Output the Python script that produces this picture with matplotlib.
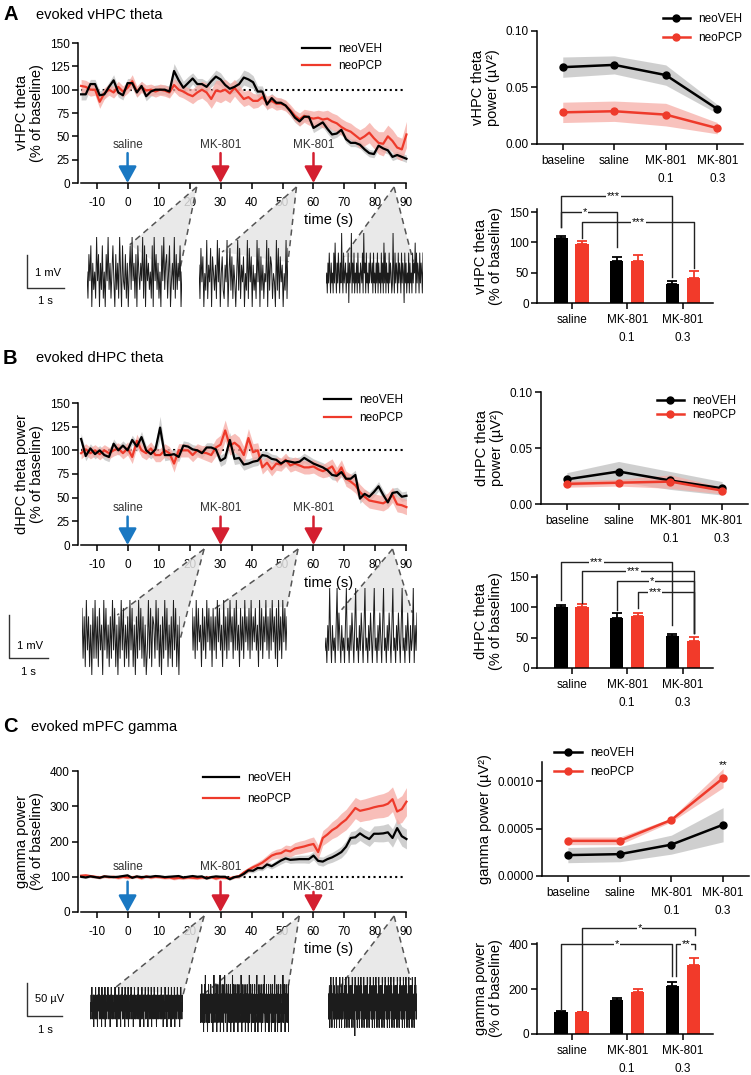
import numpy as np
import matplotlib
matplotlib.use('Agg')
import matplotlib.pyplot as plt
from matplotlib.patches import Polygon
from matplotlib.lines import Line2D

plt.rcParams['font.family'] = ['Liberation Sans', 'DejaVu Sans']
plt.rcParams['axes.unicode_minus'] = False
plt.rcParams['axes.linewidth'] = 1.1
plt.rcParams['xtick.major.width'] = 1.1
plt.rcParams['ytick.major.width'] = 1.1
plt.rcParams['xtick.major.size'] = 4
plt.rcParams['ytick.major.size'] = 4
plt.rcParams['xtick.labelsize'] = 8.5
plt.rcParams['ytick.labelsize'] = 8.5

# ---------------- DATA ----------------
time_s = np.arange(-15, 90.1, 1.5)

vhpc_veh = [95, 95, 106, 106, 94, 95, 103, 110, 97, 94,
            107, 107, 97, 104, 93, 98, 100, 100, 100, 98,
            120, 110, 102, 107, 112, 106, 106, 103, 109, 114,
            111, 105, 101, 103, 106, 113, 111, 108, 98, 98,
            84, 91, 86, 86, 83, 77, 70, 66, 71, 71,
            59, 62, 65, 58, 52, 53, 57, 47, 43, 43,
            41, 36, 32, 31, 40, 37, 35, 28, 30, 28, 26]
vhpc_veh_sem = [6, 6, 5, 5, 5, 5, 5, 6, 5, 5,
                5, 5, 5, 5, 5, 5, 5, 5, 5, 6,
                8, 8, 7, 7, 6, 6, 6, 6, 6, 7,
                7, 6, 6, 6, 7, 8, 8, 7, 6, 6,
                6, 5, 5, 5, 5, 5, 5, 5, 5, 5,
                5, 5, 5, 5, 5, 4, 4, 4, 4, 4,
                4, 4, 4, 4, 4, 4, 4, 4, 4, 4, 4]
vhpc_pcp = [104, 103, 100, 100, 87, 96, 100, 97, 103, 98,
            102, 109, 98, 103, 99, 100, 98, 100, 99, 97,
            105, 100, 98, 95, 93, 97, 100, 97, 90, 99,
            98, 100, 96, 102, 96, 90, 92, 88, 88, 92,
            86, 88, 85, 85, 83, 78, 72, 68, 72, 70,
            69, 70, 68, 69, 66, 64, 60, 57, 55, 51,
            47, 50, 54, 48, 43, 42, 50, 45, 38, 36, 52]
vhpc_pcp_sem = [7, 7, 7, 6, 7, 6, 6, 6, 6, 6,
                6, 7, 6, 6, 6, 6, 6, 6, 6, 6,
                7, 7, 7, 7, 8, 8, 9, 10, 10, 11,
                12, 11, 10, 9, 9, 8, 8, 8, 7, 7,
                7, 7, 7, 6, 6, 6, 6, 7, 7, 8,
                8, 8, 9, 9, 9, 9, 9, 9, 9, 9,
                10, 10, 11, 11, 12, 13, 12, 12, 12, 12, 14]

dhpc_veh = [112, 94, 102, 96, 100, 95, 93, 107, 100, 105,
            100, 111, 104, 114, 100, 96, 101, 124, 95, 95,
            96, 93, 105, 104, 101, 100, 97, 103, 103, 101,
            89, 92, 111, 91, 92, 85, 86, 88, 89, 95,
            94, 91, 90, 86, 89, 88, 87, 88, 92, 89,
            86, 84, 82, 79, 74, 73, 77, 70, 70, 74,
            49, 54, 51, 56, 62, 53, 45, 55, 56, 51, 52]
dhpc_veh_sem = [6, 5, 5, 5, 5, 5, 5, 5, 5, 5,
                5, 5, 5, 6, 5, 5, 6, 12, 6, 5,
                5, 5, 5, 5, 5, 5, 5, 5, 5, 5,
                6, 6, 8, 6, 6, 6, 5, 5, 5, 5,
                5, 5, 5, 5, 5, 5, 5, 5, 5, 5,
                5, 5, 5, 5, 5, 5, 5, 5, 5, 5,
                5, 5, 5, 5, 5, 5, 5, 5, 5, 5, 5]
dhpc_pcp = [97, 101, 97, 100, 96, 100, 97, 100, 102, 97,
            102, 93, 110, 100, 97, 102, 95, 95, 100, 97,
            86, 100, 100, 100, 95, 100, 98, 97, 95, 103,
            106, 121, 105, 108, 104, 95, 113, 98, 100, 82,
            87, 80, 86, 85, 90, 84, 86, 84, 82, 82,
            83, 80, 78, 80, 83, 74, 82, 70, 67, 63,
            56, 51, 47, 46, 45, 44, 47, 53, 43, 42, 40]
dhpc_pcp_sem = [6, 6, 6, 6, 6, 6, 6, 6, 6, 6,
                7, 7, 7, 7, 7, 7, 7, 7, 7, 7,
                9, 7, 7, 7, 7, 7, 7, 8, 8, 9,
                10, 11, 10, 10, 10, 9, 10, 9, 8, 7,
                7, 7, 7, 7, 7, 7, 7, 7, 7, 7,
                7, 7, 7, 8, 8, 8, 8, 8, 8, 8,
                8, 8, 8, 8, 8, 8, 8, 8, 8, 8, 8]

gamma_veh = [100, 98, 101, 99, 97, 101, 100, 99, 100, 102,
             104, 97, 101, 99, 100, 100, 102, 101, 99, 100,
             101, 102, 98, 100, 102, 100, 101, 95, 99, 101,
             100, 100, 93, 99,
             101, 108, 118, 117, 125, 124, 135, 130, 138, 146,
             152, 148, 149, 150, 150, 150, 160, 145, 143, 150,
             155, 162, 170, 185, 210, 212, 223, 214, 207, 222,
             222, 223, 226, 210, 238, 215, 207]
gamma_veh_sem = [3] * 34 + [5, 5, 6, 6, 7, 7, 8, 8, 9, 10,
                            10, 10, 10, 11, 11, 12, 12, 12, 13, 13,
                            14, 15, 16, 17, 18, 19, 20, 20, 21, 22,
                            23, 24, 25, 26, 27, 28, 28]
gamma_pcp = [103, 104, 102, 100, 98, 101, 99, 100, 97, 100,
             98, 99, 100, 96, 101, 98, 100, 99, 97, 98,
             95, 97, 96, 98, 97, 96, 98, 97, 99, 95,
             98, 97, 96, 99,
             102, 112, 120, 127, 133, 140, 150, 160, 165, 167,
             175, 172, 180, 183, 186, 190, 193, 170, 210, 220,
             232, 240, 252, 262, 278, 295, 287, 290, 293, 297,
             300, 302, 307, 320, 285, 292, 313]
gamma_pcp_sem = [4] * 34 + [5, 6, 7, 8, 9, 10, 11, 12, 13, 14,
                            15, 16, 17, 18, 18, 19, 20, 20, 21, 22,
                            24, 26, 28, 29, 30, 30, 31, 31, 32, 32,
                            33, 34, 35, 35, 36, 38, 40]

# injections
inj_times = [0, 30, 60]
inj_labels = ['saline', 'MK-801', 'MK-801']

# absolute power (right-top panels)
power_cats = ['baseline', 'saline', 'MK-801\n0.1', 'MK-801\n0.3']
vpow_veh = [0.068, 0.070, 0.061, 0.031]
vpow_veh_sem = [0.009, 0.008, 0.009, 0.004]
vpow_pcp = [0.028, 0.029, 0.026, 0.014]
vpow_pcp_sem = [0.009, 0.009, 0.010, 0.005]
dpow_veh = [0.022, 0.029, 0.021, 0.014]
dpow_veh_sem = [0.006, 0.009, 0.008, 0.006]
dpow_pcp = [0.018, 0.019, 0.020, 0.012]
dpow_pcp_sem = [0.003, 0.003, 0.006, 0.003]
gpow_veh = [0.00022, 0.00023, 0.00033, 0.00054]
gpow_veh_sem = [0.00008, 0.00008, 0.00010, 0.00018]
gpow_pcp = [0.00037, 0.00037, 0.00059, 0.00103]
gpow_pcp_sem = [0.00004, 0.00004, 0.00002, 0.00010]

# percentage bars
bar_cats = ['saline', 'MK-801\n0.1', 'MK-801\n0.3']
vbar_veh = [107, 70, 32]
vbar_veh_err = [4, 6, 4]
vbar_pcp = [98, 70, 42]
vbar_pcp_err = [5, 9, 11]
dbar_veh = [100, 83, 52]
dbar_veh_err = [4, 8, 4]
dbar_pcp = [100, 85, 45]
dbar_pcp_err = [5, 6, 6]
gbar_veh = [97, 150, 212]
gbar_veh_err = [4, 12, 18]
gbar_pcp = [97, 187, 305]
gbar_pcp_err = [3, 15, 35]

# significance brackets: (x_left, x_right, y, left_end, right_end, label, label_x)
v_brackets = [(-0.19, 1.81, 176, 125, 43, '***', 0.75),
              (-0.19, 0.81, 150, 125, 92, '*', 0.25),
              (0.19, 2.19, 133, 107, 57, '***', 1.2)]
d_brackets = [(-0.19, 1.81, 175, 112, 70, '***', 0.45),
              (0.19, 2.19, 160, 107, 58, '***', 1.11),
              (0.81, 2.19, 143, 96, 58, '*', 1.44),
              (1.19, 2.19, 125, 98, 58, '***', 1.5)]
g_brackets = [(0.19, 2.22, 470, 105, 440, '*', 1.22),
              (-0.19, 1.80, 400, 105, 260, '*', 0.82),
              (1.87, 2.22, 400, 260, 378, '**', 2.06)]

# example LFP traces (hand-copied amplitude levels, 0-9)
trace_A1 = ("52748163529471638251749362584173629518437261583946"
            "27185364928174635281947362518493672581463927364815")
trace_A2 = ("62847153926481753629481573264915837264159382647153"
            "9284716352948173625491837625419382746153928")
trace_A3 = ("45364753645374853647536495374563547264593647354637"
            "45365473956374536475463745364736453746384736453746"
            "53495374653746537465274635473645374658374653746537")
trace_B1 = ("82719371608292718360938261729381607293816271938160"
            "72938271603928176293816072938162719381607")
trace_B2 = ("72618273507261837260726183725082617283617282507261"
            "83627182637250827163826172836170826183726")
trace_B3 = ("45364953645369475364536945364753694536475369453647"
            "53694536475369453647536945364753694536475364593647")
trace_C1 = ("45364735462645374536264573645362745364537264536475"
            "36452637453645364735462645374536264573645362745364"
            "53726453647536452637453645364735462645374536264573"
            "64536274536453726453647536452637453645364735462645"
            "37453626457364536274536453726453647536452637453645")
trace_C2 = ("46354736452637485364526374536475364526384536475263"
            "74536482536475362748536475263745364725364837526374"
            "53647526374536485263745364725364735264836475263745"
            "36472536483526374536472536475384526374536472536475"
            "26374536482536475263745364725364836475263745364725")
trace_C3 = ("46357264837265483726453827364537284635273846537264"
            "83726453826374537284635271846537264837265483726453"
            "82637453728463527384653726483726548372645382637453"
            "72846352738465372648372654837264538263745372846352"
            "73846537264837265483726453826374537284635273846537")

# ---------------- STYLE ----------------
RED = '#ee3a2b'
BAR_RED = '#f23a2a'
BLUE_ARROW = '#1a78c2'
RED_ARROW = '#d41f30'
GREY_BAND = '#c4c4c4'
PINK_BAND = '#f6a9a2'

W, H = 751, 1075
fig = plt.figure(figsize=(W / 100, H / 100), dpi=100)


def add_ax(x0, y0, x1, y1):
    return fig.add_axes([x0 / W, 1 - y1 / H, (x1 - x0) / W, (y1 - y0) / H])


def clean(ax):
    ax.spines['top'].set_visible(False)
    ax.spines['right'].set_visible(False)
    ax.tick_params(direction='out', pad=2)


def timeseries(ax, veh, veh_sem, pcp, pcp_sem, ylim, yticks, label_y, arrow_top, ylabel,
               leg_anchor, leg_spacing, handlelen):
    veh = np.array(veh, float); pcp = np.array(pcp, float)
    veh_sem = np.array(veh_sem, float); pcp_sem = np.array(pcp_sem, float)
    ax.plot([-15, 90], [100, 100], ls=(0, (1, 1.6)), color='k', lw=1.5, zorder=1)
    ax.fill_between(time_s, veh - veh_sem, veh + veh_sem, color=GREY_BAND, alpha=0.8, lw=0, zorder=2)
    ax.fill_between(time_s, pcp - pcp_sem, pcp + pcp_sem, color=PINK_BAND, alpha=0.75, lw=0, zorder=2)
    l2, = ax.plot(time_s, pcp, color=RED, lw=1.6, zorder=3)
    l1, = ax.plot(time_s, veh, color='k', lw=1.6, zorder=4)
    for i, (t, lab) in enumerate(zip(inj_times, inj_labels)):
        c = BLUE_ARROW if i == 0 else RED_ARROW
        ax.annotate('', xy=(t, 0), xytext=(t, arrow_top[i]),
                    arrowprops=dict(arrowstyle='-|>,head_width=0.55,head_length=1.0',
                                    color=c, lw=1.8, shrinkA=0, shrinkB=0), zorder=5)
        ax.text(t, label_y[i], lab, ha='center', va='center', fontsize=8.5, color='#333333')
    ax.set_xlim(-16, 90.5)
    ax.set_ylim(*ylim)
    ax.set_yticks(yticks)
    ax.set_xticks(np.arange(-10, 91, 10))
    ax.set_xlabel('time (s)', fontsize=10.5)
    ax.set_ylabel(ylabel, fontsize=10.5, linespacing=1.1)
    ax.spines['bottom'].set_bounds(-15, 90)
    clean(ax)
    ax.tick_params(axis='x', pad=6)
    ax.xaxis.set_label_coords(0.76, -0.215)
    ax.legend([l1, l2], ['neoVEH', 'neoPCP'], loc='upper left', bbox_to_anchor=leg_anchor,
              frameon=False, fontsize=8.5, handlelength=handlelen, handletextpad=0.7,
              labelspacing=leg_spacing, borderpad=0, borderaxespad=0)


def powerplot(ax, veh, veh_sem, pcp, pcp_sem, ylim, yticks, ylabel, leg_anchor, leg_spacing, ticklabels):
    x = np.arange(4)
    veh = np.array(veh); pcp = np.array(pcp)
    veh_sem = np.array(veh_sem); pcp_sem = np.array(pcp_sem)
    ax.fill_between(x, veh - veh_sem, veh + veh_sem, color=GREY_BAND, alpha=0.8, lw=0)
    ax.fill_between(x, pcp - pcp_sem, pcp + pcp_sem, color=PINK_BAND, alpha=0.7, lw=0)
    ax.plot(x, veh, color='k', lw=1.8, marker='o', ms=5)
    ax.plot(x, pcp, color=RED, lw=1.8, marker='o', ms=5)
    ax.set_xlim(-0.5, 3.5)
    ax.set_ylim(*ylim)
    ax.set_yticks(yticks)
    ax.set_yticklabels(ticklabels)
    ax.set_xticks(x)
    ax.set_xticklabels(power_cats, linespacing=1.7, va='top')
    ax.set_ylabel(ylabel, fontsize=10.5, linespacing=1.1)
    clean(ax)
    ax.tick_params(axis='x', pad=4)
    h1 = Line2D([], [], color='k', lw=1.8, marker='o', ms=5)
    h2 = Line2D([], [], color=RED, lw=1.8, marker='o', ms=5)
    ax.legend([h1, h2], ['neoVEH', 'neoPCP'], loc='upper left', bbox_to_anchor=leg_anchor,
              frameon=False, fontsize=8.5, handlelength=2.3, handletextpad=0.7,
              labelspacing=leg_spacing, borderpad=0, borderaxespad=0)


def barplot(ax, veh, veh_err, pcp, pcp_err, ylim, yticks, ylabel, brackets):
    x = np.arange(3)
    off, bw = 0.19, 0.24
    ax.bar(x - off, veh, bw, color='k', zorder=2)
    ax.bar(x + off, pcp, bw, color=BAR_RED, zorder=2)
    ax.errorbar(x - off, veh, yerr=[np.zeros(3), veh_err], fmt='none', ecolor='k',
                capsize=3.5, elinewidth=1.3, capthick=1.3, zorder=1)
    ax.errorbar(x + off, pcp, yerr=[np.zeros(3), pcp_err], fmt='none', ecolor=BAR_RED,
                capsize=3.5, elinewidth=1.3, capthick=1.3, zorder=1)
    for xl, xr, y, yl, yr, lab, lx in brackets:
        ax.plot([xl, xl, xr, xr], [yl, y, y, yr], color='#222222', lw=1.0, clip_on=False, zorder=3)
        ax.text(lx, y, lab, ha='center', va='center', fontsize=8, clip_on=False, zorder=4,
                bbox=dict(fc='white', ec='none', pad=0.6))
    ax.set_xlim(-0.62, 2.54)
    ax.set_ylim(*ylim)
    ax.set_yticks(yticks)
    ax.set_xticks(x)
    ax.set_xticklabels(bar_cats, linespacing=1.7, va='top')
    ax.set_ylabel(ylabel, fontsize=10.5, linespacing=1.1)
    clean(ax)
    ax.tick_params(axis='x', pad=4)


# ---------------- PANEL A ----------------
axA = add_ax(78, 43, 408, 183)
timeseries(axA, vhpc_veh, vhpc_veh_sem, vhpc_pcp, vhpc_pcp_sem, (0, 150), [0, 25, 50, 75, 100, 125, 150],
           [41, 41, 41], [32, 32, 32], 'vHPC theta\n(% of baseline)', (0.68, 1.0), 0.45, 2.3)
axA2 = add_ax(537, 31, 743, 144)
powerplot(axA2, vpow_veh, vpow_veh_sem, vpow_pcp, vpow_pcp_sem, (0, 0.1), [0, 0.05, 0.10],
          'vHPC theta\npower (µV²)', (0.61, 1.16), 0.6, ['0.00', '0.05', '0.10'])
axA3 = add_ax(537, 209, 713, 303)
barplot(axA3, vbar_veh, vbar_veh_err, vbar_pcp, vbar_pcp_err, (0, 155), [0, 50, 100, 150],
        'vHPC theta\n(% of baseline)', v_brackets)

# ---------------- PANEL B ----------------
axB = add_ax(78, 403, 408, 545)
timeseries(axB, dhpc_veh, dhpc_veh_sem, dhpc_pcp, dhpc_pcp_sem, (0, 150), [0, 25, 50, 75, 100, 125, 150],
           [39, 39, 39], [30, 30, 30], 'dHPC theta power\n(% of baseline)', (0.745, 1.06), 0.45, 2.3)
axB2 = add_ax(541, 392, 748, 504)
powerplot(axB2, dpow_veh, dpow_veh_sem, dpow_pcp, dpow_pcp_sem, (0, 0.1), [0, 0.05, 0.10],
          'dHPC theta\npower (µV²)', (0.56, 0.97), 0.15, ['0.00', '0.05', '0.10'])
axB3 = add_ax(537, 575, 713, 668)
barplot(axB3, dbar_veh, dbar_veh_err, dbar_pcp, dbar_pcp_err, (0, 153), [0, 50, 100, 150],
        'dHPC theta\n(% of baseline)', d_brackets)

# ---------------- PANEL C ----------------
axC = add_ax(78, 771, 408, 912)
timeseries(axC, gamma_veh, gamma_veh_sem, gamma_pcp, gamma_pcp_sem, (0, 400), [0, 100, 200, 300, 400],
           [128, 128, 72], [86, 86, 57], 'gamma power\n(% of baseline)', (0.38, 0.99), 0.7, 3.0)
axC2 = add_ax(542, 762, 749, 876)
powerplot(axC2, gpow_veh, gpow_veh_sem, gpow_pcp, gpow_pcp_sem, (0, 0.0012), [0, 0.0005, 0.0010],
          'gamma power (µV²)', (0.06, 1.13), 0.6, ['0.0000', '0.0005', '0.0010'])
axC2.text(3, 0.00112, '**', ha='center', va='bottom', fontsize=8)
axC3 = add_ax(537, 943, 713, 1034)
barplot(axC3, gbar_veh, gbar_veh_err, gbar_pcp, gbar_pcp_err, (0, 405), [0, 200, 400],
        'gamma power\n(% of baseline)', g_brackets)

# ---------------- overlay: titles, wedges, scale bars ----------------
over = fig.add_axes([0, 0, 1, 1], zorder=5)
over.set_xlim(0, W)
over.set_ylim(H, 0)
over.axis('off')
over.patch.set_visible(False)

for letter, title, (lx, ly), tx in [('A', 'evoked vHPC theta', (3, 15), 36),
                                    ('B', 'evoked dHPC theta', (3, 358), 36),
                                    ('C', 'evoked mPFC gamma', (3, 727), 31)]:
    over.text(lx, ly, letter, fontsize=14.5, fontweight='bold', ha='left', va='center')
    over.text(tx, ly, title, fontsize=10.5, ha='left', va='center')

trace_boxes = {
    'A': [(87, 237, 182, 307), (199, 240, 288, 307), (326, 233, 423, 303)],
    'B': [(82, 600, 180, 675), (192, 600, 287, 667), (325, 588, 417, 663)],
    'C': [(90, 987, 183, 1027), (200, 975, 289, 1032), (328, 977, 417, 1036)],
}
trace_data = {'A': [trace_A1, trace_A2, trace_A3],
              'B': [trace_B1, trace_B2, trace_B3],
              'C': [trace_C1, trace_C2, trace_C3]}
wedge_pts = {
    'A': [(22.3, (0.45, 0.89), (0.96, 0.41)), (54.5, (0.26, 0.82), (1.0, 0.67)), (86, (0.18, 0.66), (0.9, 0.59))],
    'B': [(24.7, (0.36, 0.8), (1.0, 0.47)), (55, (0.22, 0.85), (1.0, 0.9)), (85.5, (0.18, 0.71), (0.95, 0.67))],
    'C': [(24.7, (0.27, 0.98), (1.0, 0.8)), (55.4, (0.03, 0.65), (0.99, 0.77)), (86, (0.13, 0.83), (0.93, 0.95))],
}
main_axes = {'A': axA, 'B': axB, 'C': axC}

for key in ['A', 'B', 'C']:
    for box, s, (tap, lf, rf) in zip(trace_boxes[key], trace_data[key], wedge_pts[key]):
        tax = add_ax(*box)
        tax.set_zorder(6)
        vals = np.array([int(ch) for ch in s], float)
        tax.plot(np.arange(len(vals)), vals, color='#1c1c1c', lw=0.7)
        tax.set_xlim(0, len(vals) - 1)
        tax.set_ylim(vals.min(), vals.max())
        tax.axis('off')
        tax.patch.set_visible(False)
        axm = main_axes[key]
        ap = axm.transData.transform((tap, 0))
        apex = (ap[0], H - ap[1] + 4)
        lp = tax.transAxes.transform(lf); lp = (lp[0], H - lp[1])
        rp = tax.transAxes.transform(rf); rp = (rp[0], H - rp[1])
        over.add_patch(Polygon([apex, lp, rp], closed=True, fc='#e6e6e6', ec='none', alpha=0.85))
        for p in (lp, rp):
            over.plot([apex[0], p[0]], [apex[1], p[1]], ls=(0, (4, 3)), color='#555555', lw=1.1)

# scale bars
for (x0, y0, y1, x1, vlab, vly, slx, sly) in [(27, 255, 288, 64, '1 mV', 273, 45, 298),
                                              (9, 615, 658, 48, '1 mV', 646, 28, 669),
                                              (27, 983, 1016, 62, '50 µV', 999, 45, 1027)]:
    over.plot([x0, x0, x1], [y0, y1, y1], color='#333333', lw=1.0)
    over.text(x0 + 8, vly, vlab, fontsize=8, ha='left', va='center')
    over.text(slx, sly + 3, '1 s', fontsize=8, ha='center', va='center')

fig.savefig('out.png', dpi=100)
